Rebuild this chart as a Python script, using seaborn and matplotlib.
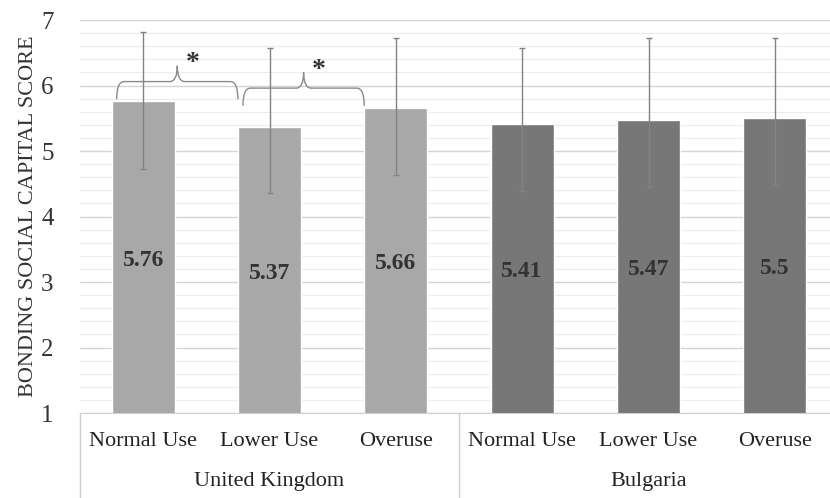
import pandas as pd
import numpy as np
import matplotlib.pyplot as plt
import seaborn as sns
from matplotlib.path import Path
from matplotlib.patches import PathPatch
from matplotlib.ticker import MultipleLocator

# data
countries = ['United Kingdom', 'United Kingdom', 'United Kingdom',
             'Bulgaria', 'Bulgaria', 'Bulgaria']
usage = ['Normal Use', 'Lower Use', 'Overuse',
         'Normal Use', 'Lower Use', 'Overuse']
means = [5.76, 5.37, 5.66, 5.41, 5.47, 5.5]
err_low = [1.03, 1.01, 1.03, 1.02, 1.02, 1.02]
err_high = [1.06, 1.20, 1.06, 1.16, 1.25, 1.22]
# significant pairs (index of bars compared)
sig_pairs = [(0, 1), (1, 2)]

sns.set_style('white')
plt.rcParams['font.family'] = ['Liberation Serif', 'DejaVu Serif']

df = pd.DataFrame({'country': countries, 'usage': usage, 'mean': means})
df['key'] = [f'{c}|{u}' for c, u in zip(countries, usage)]

fig = plt.figure(figsize=(8.3, 4.98), dpi=100)
ax = fig.add_axes([80 / 830, 1 - 413 / 498, 758 / 830, 393 / 498])

sns.barplot(data=df, x='key', y='mean', hue='country', dodge=False,
            palette={'United Kingdom': '#a8a8a8', 'Bulgaria': '#777777'},
            width=0.5, saturation=1, legend=False, ax=ax, zorder=2)

xs = np.arange(len(df))
ax.errorbar(xs, df['mean'], yerr=[err_low, err_high], fmt='none', ecolor='#838383',
            elinewidth=1.0, capsize=2.5, capthick=1.0, zorder=3)

for x, m in zip(xs, df['mean']):
    ax.text(x, (1 + m) / 2 - 0.05, f'{m:g}', ha='center', va='center',
            fontsize=17, fontweight='bold', color='#333333', zorder=4)

ax.set_ylim(1, 7)
ax.set_xlim(-0.5, len(df) - 0.5)
ax.yaxis.set_major_locator(MultipleLocator(1))
ax.yaxis.set_minor_locator(MultipleLocator(0.2))
ax.grid(axis='y', which='major', color='#d4d4d4', linewidth=1.0, zorder=0)
ax.grid(axis='y', which='minor', color='#ececec', linewidth=0.8, zorder=0)
ax.set_axisbelow(True)
for s in ['top', 'right', 'left']:
    ax.spines[s].set_visible(False)
ax.spines['bottom'].set_color('#cfcfcf')

ax.set_xticks(xs)
ax.set_xticklabels(df['usage'], fontsize=16, color='#222222')
ax.tick_params(axis='x', length=0, pad=14)
ax.tick_params(axis='y', which='both', length=0, labelsize=18, labelcolor='#333333', pad=19)
ax.set_xlabel('')
ax.set_ylabel('BONDING SOCIAL CAPITAL SCORE', fontsize=16, color='#333333', labelpad=2)

# group labels and separators
trans = ax.get_xaxis_transform()
for i, c in enumerate(['United Kingdom', 'Bulgaria']):
    ax.text(3 * i + 1, -0.175, c, transform=trans, ha='center', va='center',
            fontsize=16, color='#222222')
for xb in [-0.5, 2.5, 5.5]:
    ax.plot([xb, xb], [0, -0.22], transform=trans, color='#cfcfcf',
            linewidth=1.0, clip_on=False)


def brace(ax, x0, x1, ytop, yend, ytip, dx=0.06):
    xm = (x0 + x1) / 2
    verts = [(x0, yend), (x0, ytop), (x0 + dx, ytop),
             (xm - dx, ytop), (xm, ytop), (xm, ytip),
             (xm, ytop), (xm + dx, ytop),
             (x1 - dx, ytop), (x1, ytop), (x1, yend)]
    codes = [Path.MOVETO, Path.CURVE3, Path.CURVE3,
             Path.LINETO, Path.CURVE3, Path.CURVE3,
             Path.CURVE3, Path.CURVE3,
             Path.LINETO, Path.CURVE3, Path.CURVE3]
    ax.add_patch(PathPatch(Path(verts, codes), fill=False, edgecolor='#8a8a8a',
                           linewidth=1.0, zorder=5))
    return xm


for a, b in sig_pairs:
    x0 = xs[a] - 0.21
    x1 = xs[b] - 0.25
    ytop = max(means[a], means[b]) + 0.30
    xm = brace(ax, x0, x1, ytop, ytop - 0.27, ytop + 0.24)
    ax.text(xm + 0.12, ytop + 0.27, '*', ha='center', va='center',
            fontsize=20, fontweight='bold', color='#333333')

fig.savefig('out.png', dpi=100)
